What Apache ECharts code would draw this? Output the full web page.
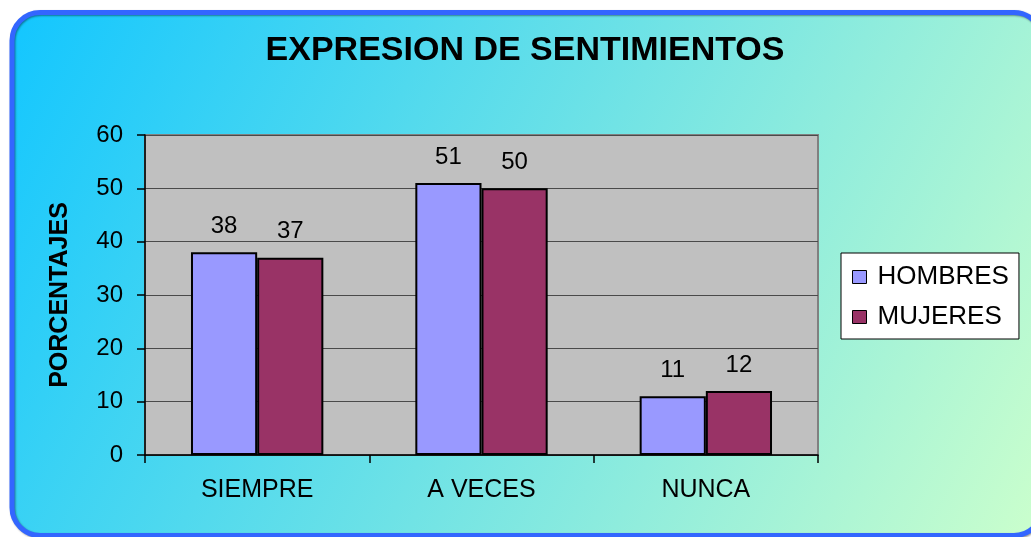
<!DOCTYPE html>
<html>
<head>
<meta charset="utf-8">
<script src="https://cdn.jsdelivr.net/npm/echarts@6/dist/echarts.min.js"></script>
<style>
  html, body { margin: 0; padding: 0; background: #fff; }
  #chart { width: 1031px; height: 537px; }
</style>
</head>
<body>
<div id="chart"></div>
<script>
// datos del gráfico
const categories = ['SIEMPRE', 'A VECES', 'NUNCA']
const hombres = [38, 51, 11]
const mujeres = [37, 50, 12]
const seriesNames = ['HOMBRES', 'MUJERES']

const FONT = '"Liberation Sans", Arial, sans-serif'

const myChart = echarts.init(document.getElementById('chart'))

const barLabel = {
  show: true,
  position: 'top',
  distance: 14,
  color: '#000',
  fontFamily: FONT,
  fontSize: 24
}

const option = {
  backgroundColor: '#fff',
  animation: false,

  // marco redondeado con degradado
  graphic: [
    {
      type: 'rect',
      z: -10,
      silent: true,
      shape: { x: 12, y: 12.5, width: 1030, height: 523, r: 28 },
      style: {
        fill: new echarts.graphic.LinearGradient(0, 0, 1, 1, [
          { offset: 0, color: '#12c6ff' },
          { offset: 1, color: '#ccffcc' }
        ]),
        stroke: '#3366ff',
        lineWidth: 5,
        shadowColor: 'rgba(0,0,0,0.4)',
        shadowBlur: 2,
        shadowOffsetX: 1,
        shadowOffsetY: 1
      }
    }
  ],

  title: {
    text: 'EXPRESION DE SENTIMIENTOS',
    left: 525,
    top: 34,
    padding: 0,
    textAlign: 'center',
    textStyle: {
      fontFamily: FONT,
      fontSize: 34,
      fontWeight: 'bold',
      color: '#000'
    }
  },

  legend: {
    data: seriesNames,
    orient: 'vertical',
    left: 841,
    top: 253,
    padding: [11, 10, 9, 11],
    itemGap: 14,
    itemWidth: 14,
    itemHeight: 13,
    icon: 'rect',
    backgroundColor: '#fff',
    borderColor: '#000',
    borderWidth: 1,
    borderRadius: 0,
    itemStyle: { borderColor: '#000', borderWidth: 1 },
    textStyle: {
      fontFamily: FONT,
      fontSize: 26,
      lineHeight: 24,
      color: '#000',
      padding: [0, 0, 0, 6]
    }
  },

  grid: {
    left: 145,
    right: 213,
    top: 135,
    bottom: 82,
    show: true,
    backgroundColor: '#c0c0c0',
    borderColor: '#808080',
    borderWidth: 2
  },

  xAxis: {
    type: 'category',
    data: categories,
    axisLine: { lineStyle: { color: '#000', width: 1.5 } },
    axisTick: { show: true, length: 8, lineStyle: { color: '#000', width: 1.5 } },
    axisLabel: {
      margin: 23,
      color: '#000',
      fontFamily: FONT,
      fontSize: 25
    }
  },

  yAxis: {
    type: 'value',
    min: 0,
    max: 60,
    interval: 10,
    name: 'PORCENTAJES',
    nameLocation: 'middle',
    nameRotate: 90,
    nameGap: 72,
    nameTextStyle: {
      fontFamily: FONT,
      fontSize: 25,
      fontWeight: 'bold',
      color: '#000'
    },
    axisLine: { show: true, lineStyle: { color: '#000', width: 1.5 } },
    axisTick: { show: true, length: 8, lineStyle: { color: '#000', width: 1.5 } },
    axisLabel: {
      margin: 22,
      color: '#000',
      fontFamily: FONT,
      fontSize: 24
    },
    splitLine: { lineStyle: { color: '#4a4a4a', width: 1.2 } }
  },

  series: [
    {
      name: seriesNames[0],
      type: 'bar',
      data: hombres,
      barGap: '0%',
      barCategoryGap: '41%',
      itemStyle: { color: '#9999ff', borderColor: '#000', borderWidth: 2 },
      label: barLabel
    },
    {
      name: seriesNames[1],
      type: 'bar',
      data: mujeres,
      itemStyle: { color: '#993366', borderColor: '#000', borderWidth: 2 },
      label: barLabel
    }
  ]
}

myChart.setOption(option)
</script>
</body>
</html>
